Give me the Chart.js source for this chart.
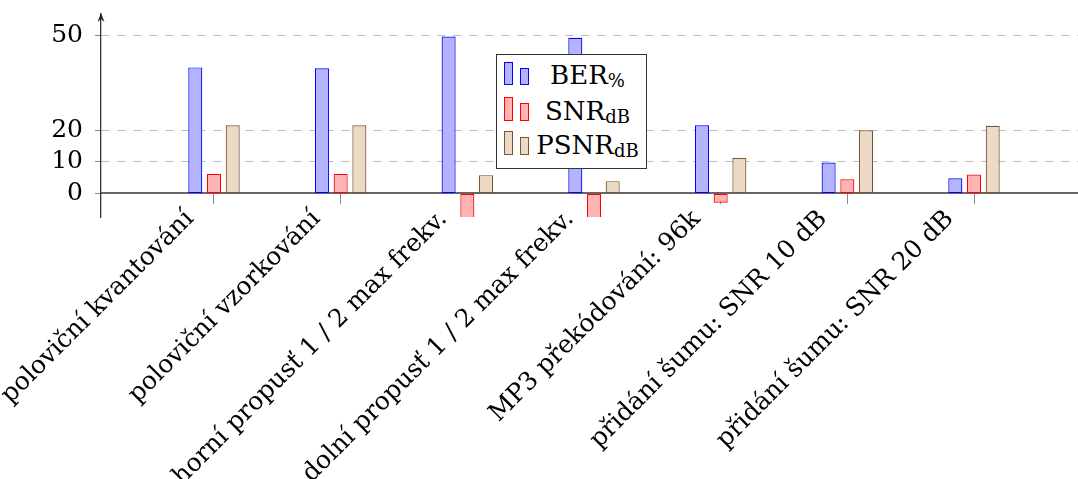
<!DOCTYPE html>
<html>
<head>
<meta charset="utf-8">
<script src="https://cdn.jsdelivr.net/npm/chart.js@4/dist/chart.umd.min.js"></script>
<style>
    html, body { margin: 0; padding: 0; background: #fff; }
    #wrap { position: relative; width: 1078px; height: 479px; }
    #legend {
        position: absolute; left: 496px; top: 54px; width: 149px; height: 113px;
        border: 1px solid #333; background: #fff;
        font-family: "DejaVu Serif", serif; font-size: 26px; color: #000;
    }
    .row { position: absolute; left: 0; width: 149px; height: 26px; }
    .ico { position: absolute; bottom: 0; width: 7px; border: 1px solid; }
    .lbl { position: absolute; left: 32px; right: 0; bottom: -3px; text-align: center; line-height: 26px; white-space: nowrap; }
    .lbl sub { font-size: 18px; vertical-align: -3px; line-height: 0; }
</style>
</head>
<body>
<div id="wrap">
    <canvas id="chart" width="1078" height="479"></canvas>
    <div id="legend"></div>
</div>
<script>
const categories = [
    "poloviční kvantování",
    "poloviční vzorkování",
    "horní propusť 1 / 2 max frekv.",
    "dolní propusť 1 / 2 max frekv.",
    "MP3 překódování: 96k",
    "přidání šumu: SNR 10 dB",
    "přidání šumu: SNR 20 dB"
];
const berValues = [39.9, 39.6, 49.7, 49.3, 21.6, 9.8, 4.8];
const snrValues = [6.2, 6.2, -8, -8, -2.9, 4.5, 6.0];
const psnrValues = [21.6, 21.6, 5.8, 3.9, 11.2, 20.0, 21.4];
const yTicks = [0, 10, 20, 50];

const seriesNames = ["BER", "SNR", "PSNR"];
const seriesSubs = ["%", "dB", "dB"];
const fillColors = ["#b3b3ff", "#ffb3b3", "#ecdac6"];
const lineColors = ["#0000ff", "#ff0000", "#7a5535"];

const FONT = "DejaVu Serif";

function toPoints(values) {
    return values.map((v, i) => ({ x: i, y: v }));
}

const arrowPlugin = {
    id: "arrow",
    afterDraw(chart) {
        const ctx = chart.ctx;
        const x = chart.chartArea.left;
        const top = chart.chartArea.top;
        ctx.save();
        ctx.fillStyle = "#222";
        ctx.beginPath();
        ctx.moveTo(x, top - 1);
        ctx.lineTo(x - 3.5, top + 8);
        ctx.lineTo(x, top + 5);
        ctx.lineTo(x + 3.5, top + 8);
        ctx.closePath();
        ctx.fill();
        ctx.restore();
    }
};

const allSeries = [berValues, snrValues, psnrValues];

new Chart(document.getElementById("chart"), {
    type: "bar",
    data: {
        datasets: allSeries.map((vals, k) => ({
            label: seriesNames[k] + seriesSubs[k],
            data: toPoints(vals),
            backgroundColor: fillColors[k],
            borderColor: lineColors[k],
            borderWidth: 1.2,
            borderSkipped: false,
            categoryPercentage: 0.443,
            barPercentage: 0.75
        }))
    },
    options: {
        responsive: false,
        animation: false,
        layout: { padding: { left: 0, right: 0, top: 14, bottom: 262 } },
        plugins: {
            legend: { display: false },
            tooltip: { enabled: false }
        },
        scales: {
            x: {
                type: "linear",
                position: { y: 0 },
                min: -0.892,
                max: 6.821,
                offset: false,
                afterBuildTicks: s => { s.ticks = categories.map((c, i) => ({ value: i })); },
                afterFit: s => { s.paddingLeft = 0; s.paddingRight = 0; },
                grid: { offset: false, drawOnChartArea: false, drawTicks: true, tickLength: 10, color: "#888", lineWidth: 1 },
                border: { display: true, color: "#666", width: 2 },
                ticks: {
                    autoSkip: false,
                    minRotation: 45,
                    maxRotation: 45,
                    padding: 1,
                    labelOffset: -24,
                    color: "#000",
                    font: { family: FONT, size: 25 },
                    callback: v => categories[v]
                }
            },
            y: {
                min: -7.44,
                max: 56.8,
                afterBuildTicks: s => { s.ticks = yTicks.map(v => ({ value: v })); },
                afterFit: s => { s.width = 101; s.paddingTop = 0; s.paddingBottom = 0; },
                grid: {
                    color: c => (c.tick && c.tick.value === 0 ? "rgba(0,0,0,0)" : "#bbbbbb"),
                    tickColor: "#888",
                    tickLength: 6,
                    tickBorderDash: [],
                    lineWidth: 1
                },
                border: { display: true, color: "#333", width: 1.3, dash: [8, 8] },
                ticks: {
                    padding: 12,
                    color: "#000",
                    font: { family: FONT, size: 25 }
                }
            }
        }
    },
    plugins: [arrowPlugin]
});

// legend with subscripts
const legend = document.getElementById("legend");
const rowBottoms = [84, 120, 154];
const bigH = [23, 24, 24];
seriesNames.forEach((name, k) => {
    const row = document.createElement("div");
    row.className = "row";
    row.style.top = (rowBottoms[k] - 54 - 26) + "px";
    const i1 = document.createElement("div");
    i1.className = "ico";
    i1.style.left = "7px";
    i1.style.height = (bigH[k] - 2) + "px";
    i1.style.background = fillColors[k];
    i1.style.borderColor = lineColors[k];
    const i2 = document.createElement("div");
    i2.className = "ico";
    i2.style.left = "23px";
    i2.style.height = (bigH[k] - 8) + "px";
    i2.style.background = fillColors[k];
    i2.style.borderColor = lineColors[k];
    const lbl = document.createElement("div");
    lbl.className = "lbl";
    lbl.innerHTML = name + "<sub>" + seriesSubs[k] + "</sub>";
    row.appendChild(i1);
    row.appendChild(i2);
    row.appendChild(lbl);
    legend.appendChild(row);
});
</script>
</body>
</html>
